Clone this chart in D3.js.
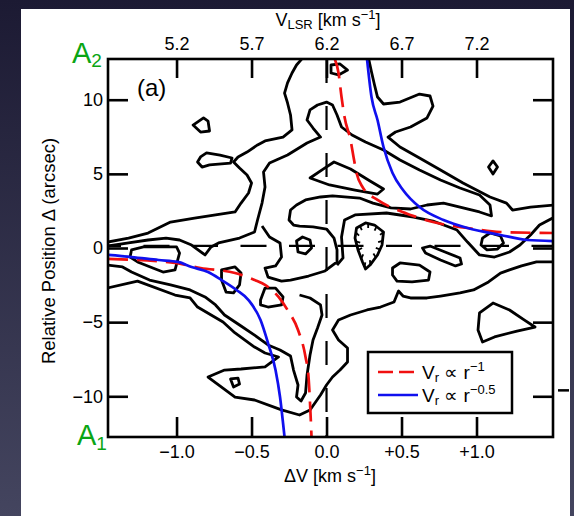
<!DOCTYPE html>
<html lang="en">
<head>
<meta charset="utf-8">
<title>PV diagram (a)</title>
<script src="https://d3js.org/d3.v7.min.js"></script>
<style>
  html, body { margin: 0; padding: 0; }
  body { width: 574px; height: 516px; overflow: hidden; background: #1d1b35; }
  text { font-family: "Liberation Sans", Arial, Helvetica, sans-serif; }
</style>
</head>
<body>
<script>
// axes
const bottomTicks = [-1.0, -0.5, 0.0, 0.5, 1.0];
const topTicks = [5.2, 5.7, 6.2, 6.7, 7.2];
const posTicks = [-10, -5, 0, 5, 10];
const vSys = 6.2;          // V_LSR at dV = 0
const zeroPos = 0.15;      // dashed horizontal reference

// contours, [dV (km/s), position (arcsec)]
const outerUL = [[-1.46,0.4],[-1.32,0.67],[-1.19,1.01],[-1.04,1.75],[-0.88,2.02],[-0.61,2.43],[-0.57,3.03],[-0.52,3.71],[-0.5,4.38],[-0.53,4.92],[-0.58,5.39],[-0.62,5.8],[-0.59,6.14],[-0.53,6.47],[-0.46,6.95],[-0.41,7.22],[-0.29,7.48],[-0.23,7.96],[-0.24,8.97],[-0.26,9.78],[-0.28,10.45],[-0.26,11.13],[-0.23,11.8],[-0.2,12.34],[-0.16,12.8]];
const outerUR = [[0.28,12.8],[0.3,11.87],[0.32,10.99],[0.34,10.18],[0.38,9.71],[0.49,9.84],[0.62,10.38],[0.69,10.25],[0.71,9.57],[0.67,8.77],[0.56,8.16],[0.46,7.82],[0.41,7.48],[0.49,6.81],[0.62,6.07],[0.76,5.26],[0.91,4.38],[1.09,3.44],[1.2,3.03],[1.24,2.56],[1.36,2.76],[1.52,2.9]];
const ridge = [[-1.46,0.13],[-1.32,0.34],[-1.19,0.54],[-1.07,0.67],[-0.98,0.54],[-0.9,0.2],[-0.81,-0.47],[-0.77,0.07],[-0.72,0.34],[-0.58,0.67],[-0.48,1.08],[-0.46,1.89],[-0.43,3.03],[-0.41,4.11],[-0.42,5.12],[-0.38,5.73],[-0.26,6.27],[-0.13,7.08],[-0.04,7.48],[-0.09,8.09],[-0.13,8.63],[-0.11,9.31],[-0.06,9.64],[0,9.84],[0.04,9.64],[0.07,8.97],[0.1,8.16],[0.17,7.62],[0.26,7.15],[0.38,6.61],[0.49,5.93],[0.62,5.26],[0.76,4.59],[0.89,4.05],[1.02,3.57],[1.09,2.9],[1.1,2.16],[1.02,2.43],[0.89,2.76],[0.78,3.03],[0.67,2.9],[0.56,2.63],[0.43,2.7],[0.31,3.03],[0.22,3.37],[0.04,3.51],[-0.04,3.44],[-0.14,3.24],[-0.2,2.9],[-0.24,2.56],[-0.25,1.89],[-0.22,1.55],[-0.18,1.48],[-0.09,1.42],[0,1.28],[0.05,0.67],[0.07,-0.13],[0.07,-0.94],[-0.01,-1.55],[-0.12,-1.89],[-0.24,-2.16],[-0.3,-2.23],[-0.39,-1.96],[-0.41,-1.35],[-0.34,-1.21],[-0.3,-0.61],[-0.31,0.34],[-0.38,0.74],[-0.43,1.48]];
const triangle = [[-0.11,4.72],[-0.02,5.33],[0.05,5.8],[0.16,5.33],[0.29,4.52],[0.38,3.98],[0.34,3.64],[0.19,3.91],[0.02,4.25]];
const centralBand = [[1.52,2.09],[1.42,1.55],[1.36,0.88],[1.29,0.2],[1.22,-0.27],[1.12,-0.61],[1.02,-0.47],[0.94,0.4],[0.87,1.21],[0.71,1.82],[0.58,2.09],[0.4,2.36],[0.19,2.23],[0.12,1.89],[0.1,0.74],[0.11,-0.67],[0.07,-1.15]];
const outerLow = [[1.52,-0.94],[1.4,-0.94],[1.3,-1.21],[1.22,-1.48],[1.16,-1.69],[1.08,-2.29],[0.98,-2.83],[0.89,-3.03],[0.76,-3.24],[0.67,-3.37],[0.56,-3.37],[0.51,-3.24],[0.48,-2.9],[0.45,-3.64],[0.36,-3.98],[0.27,-4.18],[0.16,-4.52],[0.08,-4.86],[0.04,-5.53],[0.08,-6.2],[0.14,-6.74],[0.14,-7.69],[0.09,-8.23],[0.04,-8.7],[0,-9.24],[-0.04,-9.91],[-0.11,-10.92],[-0.18,-11.26],[-0.3,-10.92],[-0.48,-10.25],[-0.61,-10.05],[-0.79,-8.7],[-0.68,-8.23],[-0.57,-8.16],[-0.41,-8.02],[-0.32,-7.35],[-0.41,-7.08],[-0.48,-6.68],[-0.61,-5.73],[-0.69,-4.99],[-0.86,-3.98],[-0.91,-3.37],[-1.01,-3.17],[-1.26,-2.23],[-1.46,-2.7]];
const armInner = [[-1.46,-1.15],[-1.36,-1.28],[-1.3,-1.62],[-1.18,-2.16],[-1.04,-2.49],[-0.91,-2.83],[-0.81,-3.3],[-0.74,-3.84],[-0.68,-4.52],[-0.58,-5.19],[-0.48,-5.87],[-0.39,-6.54],[-0.31,-6.88],[-0.24,-7.28],[-0.22,-8.23],[-0.19,-9.24],[-0.2,-10.05],[-0.17,-10.32],[-0.14,-9.78],[-0.13,-8.56],[-0.11,-7.22],[-0.09,-6.2],[-0.06,-5.39],[-0.03,-4.52],[-0.04,-3.84],[-0.11,-3.37],[-0.18,-3.17]];

// closed islands
const loopTop = [[0.03,12.34],[0.09,12.41],[0.14,12.0],[0.08,11.67],[0.03,11.8]];
const loopDiamondL = [[-0.89,8.29],[-0.82,8.77],[-0.79,8.56],[-0.78,7.89],[-0.84,7.82]];
const loopBarL = [[-0.84,6.14],[-0.8,6.41],[-0.71,6.27],[-0.63,6.07],[-0.64,5.73],[-0.78,5.6],[-0.83,5.46],[-0.86,5.8]];
const loopDiamondR = [[1.08,5.46],[1.11,5.87],[1.14,5.46],[1.11,4.99]];
const loopZero = [[-0.2,0.47],[-0.16,0.74],[-0.11,0.54],[-0.1,0],[-0.14,-0.4],[-0.19,-0.27]];
const loopZeroR = [[1.04,0.67],[1.09,1.01],[1.16,0.81],[1.18,0.34],[1.14,-0.07],[1.07,-0.13],[1.03,0.2]];
const loopDiag = [[0.64,0],[0.69,0.13],[0.79,-0.27],[0.89,-0.67],[0.9,-1.08],[0.86,-1.21],[0.76,-0.81],[0.66,-0.34]];
const loopMid = [[0.44,-1.35],[0.49,-1.01],[0.62,-1.15],[0.69,-1.62],[0.68,-2.16],[0.57,-2.29],[0.47,-2.23],[0.44,-1.82]];
const loopDrop = [[1.02,-4.38],[1.11,-3.71],[1.22,-4.18],[1.32,-4.86],[1.39,-5.33],[1.27,-5.6],[1.12,-6.0],[1.04,-6.34],[1.01,-5.53]];
const loopArm1 = [[-1.3,-0.13],[-1.22,0.07],[-1.0,0.07],[-0.98,-0.34],[-1.01,-1.48],[-1.09,-1.62],[-1.26,-0.94],[-1.31,-0.61]];
const loopArm2 = [[-0.7,-1.48],[-0.61,-1.28],[-0.57,-1.69],[-0.58,-2.49],[-0.62,-3.03],[-0.67,-2.97],[-0.7,-2.16]];
const loopArm3 = [[-0.44,-3.51],[-0.41,-2.7],[-0.34,-2.7],[-0.29,-3.3],[-0.3,-3.84],[-0.39,-3.98],[-0.44,-3.84]];
const loopWedge = [[-0.64,-8.83],[-0.59,-8.77],[-0.58,-9.17],[-0.62,-9.37]];
// depression contour (drawn with inward ticks)
const hollow = [[0.2,1.35],[0.26,1.69],[0.32,1.55],[0.38,1.08],[0.37,0.2],[0.34,-0.47],[0.29,-1.15],[0.26,-1.42],[0.24,-0.94],[0.21,-0.13],[0.19,0.67]];

// model curves
const redUpper = [[0.055,12.75],[0.08,11.8],[0.1,10.18],[0.12,8.83],[0.16,7.28],[0.18,6.14],[0.2,5.06],[0.24,4.11],[0.34,3.24],[0.44,2.7],[0.56,2.23],[0.71,1.75],[0.94,1.35],[1.16,1.08],[1.51,1.01]];
const redLower = [[-1.457,-0.74],[-1.01,-1.01],[-0.84,-1.35],[-0.61,-1.69],[-0.48,-2.16],[-0.41,-2.49],[-0.32,-3.3],[-0.26,-4.18],[-0.19,-5.53],[-0.14,-7.35],[-0.12,-8.7],[-0.11,-10.45],[-0.1,-12.745]];
const blueUpper = [[0.27,12.745],[0.3,10.18],[0.34,8.63],[0.38,6.81],[0.44,5.06],[0.51,3.91],[0.62,2.76],[0.78,1.89],[0.94,1.35],[1.16,0.88],[1.34,0.54],[1.51,0.47]];
const blueLower = [[-1.457,-0.47],[-1.3,-0.61],[-1.12,-0.81],[-0.99,-0.94],[-0.9,-1.28],[-0.79,-1.62],[-0.7,-2.16],[-0.6,-2.83],[-0.52,-3.51],[-0.44,-4.86],[-0.39,-6.41],[-0.34,-8.23],[-0.31,-10.05],[-0.29,-11.8],[-0.28,-12.745]];

const openContours = [outerUL, outerUR, ridge, centralBand, outerLow, armInner];
const closedContours = [triangle, loopTop, loopDiamondL, loopBarL, loopDiamondR, loopZero, loopZeroR, loopDiag, loopMid, loopDrop, loopArm1, loopArm2, loopArm3, loopWedge];

const width = 574, height = 516;
const plot = {left: 108, right: 553, top: 59, bottom: 437};
const green = '#0aa514';

const svg = d3.select(document.body).append('svg').attr('width', width).attr('height', height);

// slide background + white panel
const grad = svg.append('defs').append('linearGradient').attr('id', 'bg')
  .attr('x1', 0).attr('y1', 0).attr('x2', 0).attr('y2', 1);
grad.append('stop').attr('offset', '0%').attr('stop-color', '#1c1a33');
grad.append('stop').attr('offset', '100%').attr('stop-color', '#44455f');
svg.append('rect').attr('width', width).attr('height', height).attr('fill', 'url(#bg)');
svg.append('rect').attr('x', 21).attr('y', 9).attr('width', 549).attr('height', height - 9).attr('fill', '#fff');

svg.select('defs').append('clipPath').attr('id', 'clip')
  .append('rect').attr('x', plot.left).attr('y', plot.top)
  .attr('width', plot.right - plot.left).attr('height', plot.bottom - plot.top);

const x = d3.scaleLinear().domain([-1.457, 1.51]).range([plot.left, plot.right]);
const y = d3.scaleLinear().domain([-12.745, 12.745]).range([plot.bottom, plot.top]);
const xTop = d3.scaleLinear().domain([vSys - 1.457, vSys + 1.51]).range([plot.left, plot.right]);

const line = d3.line().x(d => x(d[0])).y(d => y(d[1]));
const closedLine = d3.line().x(d => x(d[0])).y(d => y(d[1])).curve(d3.curveLinearClosed);
const smooth = d3.line().x(d => x(d[0])).y(d => y(d[1])).curve(d3.curveMonotoneX);

const g = svg.append('g').attr('clip-path', 'url(#clip)');

// dashed zero lines
g.append('line').attr('x1', plot.left).attr('x2', plot.right)
  .attr('y1', y(zeroPos)).attr('y2', y(zeroPos))
  .attr('stroke', '#000').attr('stroke-width', 2.2).attr('stroke-dasharray', '26,22.5').attr('stroke-dashoffset', 13);
g.append('line').attr('x1', x(0)).attr('x2', x(0))
  .attr('y1', plot.top).attr('y2', plot.bottom)
  .attr('stroke', '#000').attr('stroke-width', 2.2).attr('stroke-dasharray', '24,23');

g.selectAll('path.open').data(openContours).enter().append('path')
  .attr('class', 'open').attr('d', line)
  .attr('fill', 'none').attr('stroke', '#000').attr('stroke-width', 2.8).attr('stroke-linejoin', 'round');
g.selectAll('path.closed').data(closedContours).enter().append('path')
  .attr('class', 'closed').attr('d', closedLine)
  .attr('fill', 'none').attr('stroke', '#000').attr('stroke-width', 2.8).attr('stroke-linejoin', 'round');

// hollow contour with inward ticks
const hollowPath = g.append('path').datum(hollow).attr('d', closedLine)
  .attr('fill', 'none').attr('stroke', '#000').attr('stroke-width', 2.8).attr('stroke-linejoin', 'round');
(function() {
  const node = hollowPath.node();
  const total = node.getTotalLength();
  const cx = d3.mean(hollow, p => x(p[0])), cy = d3.mean(hollow, p => y(p[1]));
  const ticks = [];
  for (let s = 4; s < total; s += 9) {
    const p = node.getPointAtLength(s);
    const dx = cx - p.x, dy = cy - p.y, m = Math.hypot(dx, dy);
    ticks.push([p.x, p.y, p.x + dx / m * 4.5, p.y + dy / m * 4.5]);
  }
  g.selectAll('line.hatch').data(ticks).enter().append('line').attr('class', 'hatch')
    .attr('x1', d => d[0]).attr('y1', d => d[1]).attr('x2', d => d[2]).attr('y2', d => d[3])
    .attr('stroke', '#000').attr('stroke-width', 1.8);
})();

// model curves
[redUpper, redLower].forEach(c => g.append('path').datum(c).attr('d', smooth)
  .attr('fill', 'none').attr('stroke', '#f01010').attr('stroke-width', 2.7).attr('stroke-dasharray', '20,9'));
[blueUpper, blueLower].forEach(c => g.append('path').datum(c).attr('d', smooth)
  .attr('fill', 'none').attr('stroke', '#1010ee').attr('stroke-width', 2.7));

// axes
const minus = s => String(s).replace('-', '\u2212');
const axB = svg.append('g').attr('transform', `translate(0,${plot.bottom})`)
  .call(d3.axisBottom(x).tickValues(bottomTicks).tickSize(-20).tickPadding(8)
    .tickFormat(d => d === 0 ? '0.0' : (d > 0 ? '+' : '\u2212') + Math.abs(d).toFixed(1)));
const axT = svg.append('g').attr('transform', `translate(0,${plot.top})`)
  .call(d3.axisTop(xTop).tickValues(topTicks).tickSize(-19).tickPadding(9).tickFormat(d3.format('.1f')));
const axL = svg.append('g').attr('transform', `translate(${plot.left},0)`)
  .call(d3.axisLeft(y).tickValues(posTicks).tickSize(-20).tickPadding(5).tickFormat(minus));
const axR = svg.append('g').attr('transform', `translate(${plot.right},0)`)
  .call(d3.axisRight(y).tickValues(posTicks).tickSize(-20).tickFormat(''));
[axB, axT, axL, axR].forEach(a => {
  a.select('.domain').remove();
  a.selectAll('line').attr('stroke', '#000').attr('stroke-width', 2.6);
  a.selectAll('text').attr('fill', '#000').attr('font-size', 18)
    .attr('font-family', '"Liberation Sans", Arial, Helvetica, sans-serif');
});

svg.append('rect').attr('x', plot.left).attr('y', plot.top)
  .attr('width', plot.right - plot.left).attr('height', plot.bottom - plot.top)
  .attr('fill', 'none').attr('stroke', '#000').attr('stroke-width', 2.6);

// stray tick of the neighbouring panel
svg.append('line').attr('x1', 558).attr('x2', 569).attr('y1', y(-9.6)).attr('y2', y(-9.6))
  .attr('stroke', '#000').attr('stroke-width', 2.5);

// titles
const tTop = svg.append('text').attr('x', 328).attr('y', 26).attr('text-anchor', 'middle').attr('font-size', 18);
tTop.append('tspan').text('V');
tTop.append('tspan').attr('font-size', 13).attr('dy', 3).text('LSR');
tTop.append('tspan').attr('dy', -3).text(' [km s');
tTop.append('tspan').attr('font-size', 13).attr('dy', -7).text('\u22121');
tTop.append('tspan').attr('dy', 7).text(']');

const tBot = svg.append('text').attr('x', 330).attr('y', 482).attr('text-anchor', 'middle').attr('font-size', 18);
tBot.append('tspan').text('\u0394V [km s');
tBot.append('tspan').attr('font-size', 13).attr('dy', -7).text('\u22121');
tBot.append('tspan').attr('dy', 7).text(']');

svg.append('text').attr('transform', 'translate(55,251) rotate(-90)')
  .attr('text-anchor', 'middle').attr('font-size', 18.5)
  .text('Relative Position \u0394 (arcsec)');

svg.append('text').attr('x', 137).attr('y', 96).attr('font-size', 24).text('(a)');

const a2 = svg.append('text').attr('x', 72).attr('y', 63).attr('font-size', 29).attr('fill', green);
a2.append('tspan').text('A');
a2.append('tspan').attr('font-size', 19).attr('dy', 4).text('2');
const a1 = svg.append('text').attr('x', 77).attr('y', 445).attr('font-size', 29).attr('fill', green);
a1.append('tspan').text('A');
a1.append('tspan').attr('font-size', 19).attr('dy', 5).text('1');

// legend
const lg = svg.append('g').attr('transform', 'translate(368,352)');
lg.append('rect').attr('width', 144).attr('height', 61).attr('fill', '#fff')
  .attr('stroke', '#000').attr('stroke-width', 2.5);
const legendItems = [
  {color: '#f01010', dash: '15,6', exp: '\u22121'},
  {color: '#1010ee', dash: null, exp: '\u22120.5'}
];
legendItems.forEach((d, i) => {
  const yy = 20 + i * 23;
  lg.append('line').attr('x1', 10).attr('x2', 50).attr('y1', yy).attr('y2', yy)
    .attr('stroke', d.color).attr('stroke-width', 2.6).attr('stroke-dasharray', d.dash);
  const t = lg.append('text').attr('x', 54).attr('y', yy + 7).attr('font-size', 19);
  t.append('tspan').text('V');
  t.append('tspan').attr('font-size', 13).attr('dy', 3).text('r');
  t.append('tspan').attr('dy', -3).text(' \u221d r');
  t.append('tspan').attr('font-size', 13).attr('dy', -8).text(d.exp);
});
</script>
</body>
</html>
